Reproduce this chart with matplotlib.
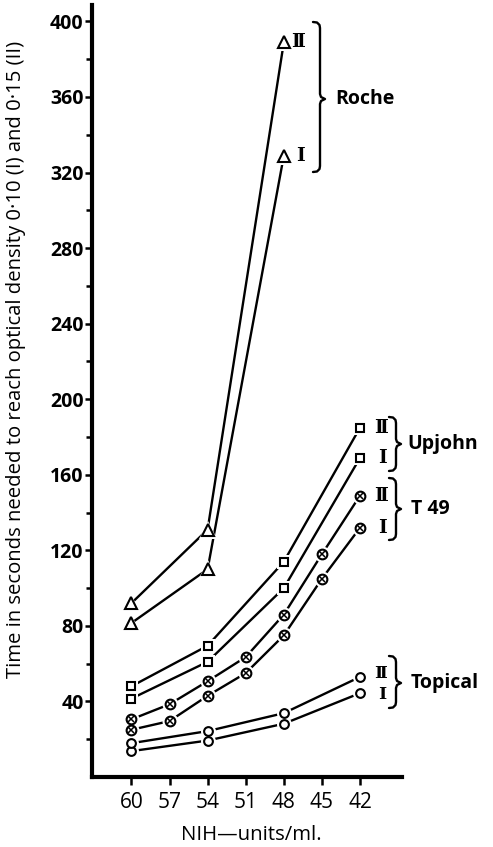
import matplotlib
matplotlib.use("Agg")
import matplotlib.pyplot as plt
from matplotlib.lines import Line2D

# ---- data ----
roche_x = [60, 54, 48]
roche_I = [81.5, 110, 329]
roche_II = [92, 131, 389]

upjohn_x = [60, 54, 48, 42]
upjohn_I = [41.5, 61, 100, 169]
upjohn_II = [48, 69.5, 114, 185]

t49_x = [60, 57, 54, 51, 48, 45, 42]
t49_I = [25, 29.6, 43, 55, 75, 105, 132]
t49_II = [30.5, 38.5, 50.7, 63.5, 86, 118, 149]

topical_x = [60, 54, 48, 42]
topical_I = [13.7, 19.3, 28.2, 44.4]
topical_II = [17.9, 24.3, 33.8, 53]

x_ticks = [60, 57, 54, 51, 48, 45, 42]
y_major = [40, 80, 120, 160, 200, 240, 280, 320, 360, 400]
y_minor = [20, 60, 100, 140, 180, 220, 260, 300, 340, 380]

W, H = 493, 847
fig = plt.figure(figsize=(W / 100, H / 100), dpi=100)
ax = fig.add_axes([92 / W, 1 - 777 / H, (402 - 92) / W, (777 - 5) / H])

FONT = "Open Sans"
LW = 1.7

def series(x, y, marker, ms, crossed=False):
    ax.plot(x, y, color="black", lw=LW, zorder=2, solid_capstyle="butt")
    ax.plot(x, y, ls="none", marker=marker, ms=ms + 4.5, mfc="white",
            mec="white", mew=0, zorder=3)
    ax.plot(x, y, ls="none", marker=marker, ms=ms, mfc="white",
            mec="black", mew=1.5, zorder=4)
    if crossed:
        ax.plot(x, y, ls="none", marker="x", ms=ms * 0.55, mec="black",
                mew=1.1, zorder=5)

series(roche_x, roche_I, "^", 9)
series(roche_x, roche_II, "^", 9)
series(upjohn_x, upjohn_I, "s", 5.5)
series(upjohn_x, upjohn_II, "s", 5.5)
series(t49_x, t49_I, "o", 7, crossed=True)
series(t49_x, t49_II, "o", 7, crossed=True)
series(topical_x, topical_I, "o", 6.3)
series(topical_x, topical_II, "o", 6.3)

ax.set_xlim(63.1, 38.7)
ax.set_ylim(0, 408.7)

for s in ["top", "right"]:
    ax.spines[s].set_visible(False)
for s in ["left", "bottom"]:
    ax.spines[s].set_linewidth(3.0)
    ax.spines[s].set_capstyle("projecting")

ax.set_xticks(x_ticks)
ax.set_xticklabels([str(v) for v in x_ticks], fontfamily=FONT, fontsize=15)
ax.set_yticks(y_major)
ax.set_yticklabels([str(v) for v in y_major], fontfamily=FONT,
                   fontsize=14, fontweight="bold")
ax.set_yticks(y_minor, minor=True)
ax.tick_params(axis="both", which="both", direction="out", width=1.8,
               color="black")
ax.tick_params(axis="y", which="major", length=5, pad=1)
ax.tick_params(axis="y", which="minor", length=4.5)
ax.tick_params(axis="x", which="major", length=5.5, pad=5)

fig.text(16 / W, 1 - 359 / H,
         "Time in seconds needed to reach optical density 0\u00b710 (I) and 0\u00b715 (II)",
         rotation=90, ha="center", va="center", fontfamily=FONT, fontsize=14.6)
fig.text(251 / W, 1 - 835 / H, "NIH\u2014units/ml.", ha="center", va="center",
         fontfamily=FONT, fontsize=14.7)

# roman numeral labels at the end of each series
def roman(x, y, txt, dx, dy=0, size=13.5):
    ax.annotate(txt, (x, y), xytext=(dx, dy), textcoords="offset points",
                ha="left", va="center", fontfamily=["DejaVu Serif"],
                fontweight="bold", fontsize=size, zorder=6)

roman(roche_x[-1], roche_II[-1], "\u2161", 5.5)
roman(roche_x[-1], roche_I[-1], "I", 8.5)
roman(upjohn_x[-1], upjohn_II[-1], "\u2161", 10)
roman(upjohn_x[-1], upjohn_I[-1], "I", 13)
roman(t49_x[-1], t49_II[-1], "\u2161", 10)
roman(t49_x[-1], t49_I[-1], "I", 13)
roman(topical_x[-1], topical_II[-1], "\u2161", 10, dy=2.5, size=12.5)
roman(topical_x[-1], topical_I[-1], "I", 13, dy=-1, size=12.5)

# braces (figure pixel layout)
def px(xp, yp):
    return xp / W, 1 - yp / H

def brace(x, y0, y1, ytip, w=7):
    pts = [(x - w, y0), (x - 3, y0 + 0.5), (x - 0.5, y0 + 3), (x, y0 + 6),
           (x, ytip - 5), (x + 1, ytip - 2), (x + 5, ytip), (x + 1, ytip + 2),
           (x, ytip + 5), (x, y1 - 6), (x - 0.5, y1 - 3), (x - 3, y1 - 0.5),
           (x - w, y1)]
    xs = [p[0] / W for p in pts]
    ys = [1 - p[1] / H for p in pts]
    fig.add_artist(Line2D(xs, ys, color="black", lw=1.7,
                          transform=fig.transFigure, solid_joinstyle="round",
                          solid_capstyle="round"))

brace(320, 22, 172, 99)
brace(396, 417, 471, 444)
brace(396, 478, 540, 509)
brace(396, 656, 708, 683)

for txt, xp, yp in [("Roche", 335, 99), ("Upjohn", 407, 444),
                    ("T 49", 411, 509), ("Topical", 411, 683)]:
    fig.text(*px(xp, yp), txt, ha="left", va="center", fontfamily=FONT,
             fontweight="bold", fontsize=14)

fig.savefig("out.png", dpi=100)
